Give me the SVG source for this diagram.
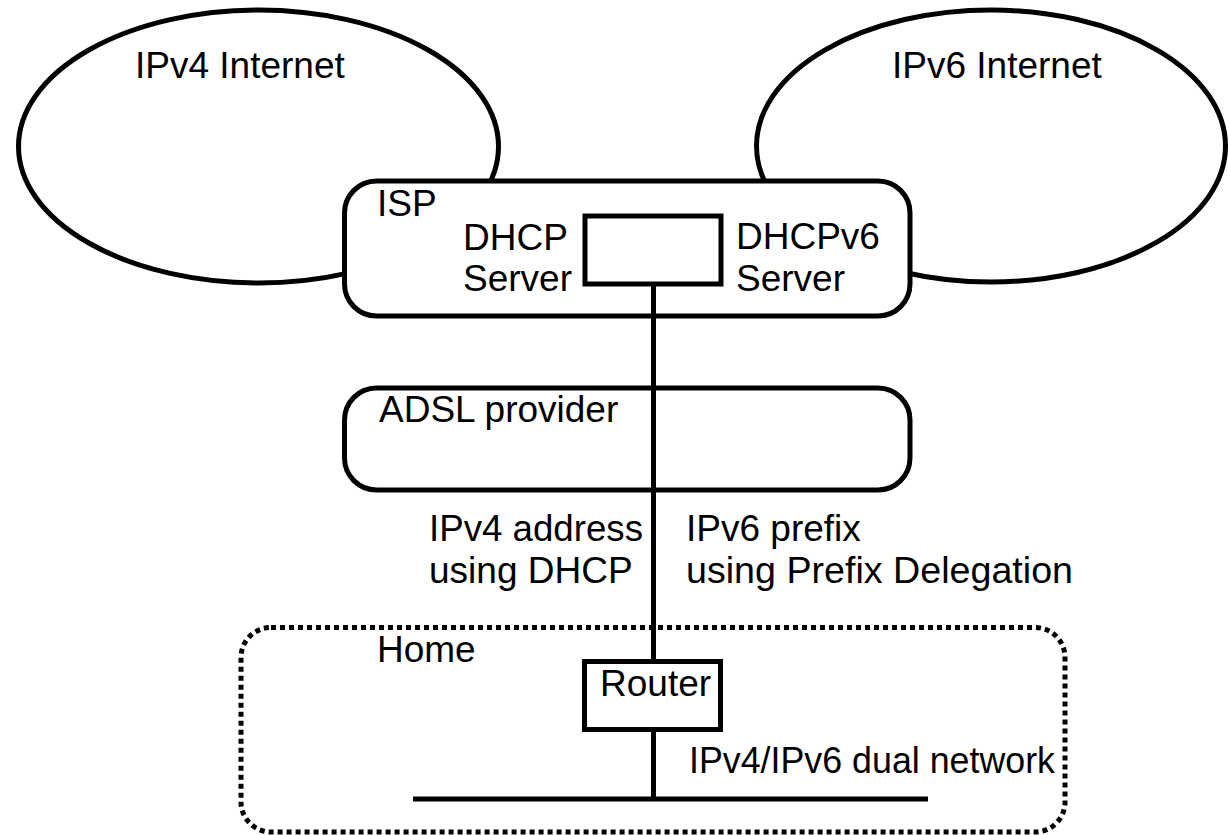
<svg xmlns="http://www.w3.org/2000/svg" width="1228" height="835" viewBox="0 0 1228 835">
<style>
.s{fill:#fff;stroke:#000;stroke-width:5}
.d{fill:none;stroke:#000;stroke-width:5;stroke-dasharray:5 4}
.l{fill:none;stroke:#000;stroke-width:5}
text{font-family:"Liberation Sans",Arial,sans-serif;font-size:37px;fill:#000}
</style>
<rect width="1228" height="835" fill="#fff"/>
<g id="ipv4-internet">
<ellipse class="s" cx="258.5" cy="146.5" rx="240" ry="136.5"/>
<text x="135" y="78">IPv4 Internet</text>
</g>
<g id="ipv6-internet">
<ellipse class="s" cx="991" cy="146" rx="234.5" ry="136"/>
<text x="892" y="78">IPv6 Internet</text>
</g>
<g id="isp">
<rect class="s" x="344.5" y="181" width="565.5" height="135" rx="32"/>
<text x="377" y="216">ISP</text>
<text x="463" y="250">DHCP</text>
<text x="463" y="291">Server</text>
<text x="736" y="249">DHCPv6</text>
<text x="736" y="291">Server</text>
</g>
<g id="dhcp-server">
<rect class="s" x="585" y="216" width="136" height="68"/>
</g>
<g id="adsl">
<rect class="s" x="344.5" y="388" width="565.5" height="102" rx="32"/>
<text x="379" y="422">ADSL provider</text>
</g>
<g id="home">
<rect class="d" x="241" y="627.5" width="824" height="204.5" rx="30"/>
<text x="377" y="662">Home</text>
</g>
<g id="connectors">
<line class="l" x1="653.5" y1="284" x2="653.5" y2="661.5"/>
<line class="l" x1="653.5" y1="729.5" x2="653.5" y2="799"/>
<line class="l" x1="413" y1="799" x2="928" y2="799"/>
</g>
<g id="router">
<rect class="s" x="584.5" y="661.5" width="136" height="68"/>
<text x="600" y="696">Router</text>
</g>
<g id="labels">
<text x="429" y="541" textLength="214" lengthAdjust="spacingAndGlyphs">IPv4 address</text>
<text x="429" y="583">using DHCP</text>
<text x="686" y="541">IPv6 prefix</text>
<text x="686" y="583" textLength="387" lengthAdjust="spacingAndGlyphs">using Prefix Delegation</text>
<text x="689" y="773" textLength="366" lengthAdjust="spacingAndGlyphs">IPv4/IPv6 dual network</text>
</g>
</svg>
